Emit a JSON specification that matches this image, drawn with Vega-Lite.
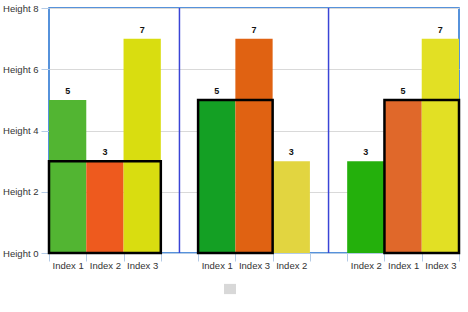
{
  "$schema": "https://vega.github.io/schema/vega-lite/v6.json",
  "width": 410,
  "height": 245,
  "autosize": {"type": "none"},
  "padding": {"left": 49, "top": 8, "right": 9, "bottom": 59},
  "background": "white",
  "config": {
    "view": {"stroke": "#1f6fd0", "strokeWidth": 1.5},
    "font": "Liberation Sans"
  },
  "datasets": {
    "bars": [
      {"slot": "0|Index 1", "value": 5},
      {"slot": "1|Index 2", "value": 3},
      {"slot": "2|Index 3", "value": 7},
      {"slot": "4|Index 1", "value": 5},
      {"slot": "5|Index 3", "value": 7},
      {"slot": "6|Index 2", "value": 3},
      {"slot": "8|Index 2", "value": 3},
      {"slot": "9|Index 1", "value": 5},
      {"slot": "10|Index 3", "value": 7}
    ],
    "boxes": [
      {"from": "0|Index 1", "to": "2|Index 3", "top": 3},
      {"from": "4|Index 1", "to": "5|Index 3", "top": 5},
      {"from": "9|Index 1", "to": "10|Index 3", "top": 5}
    ],
    "seps": [{"slot": "3|"}, {"slot": "7|"}],
    "leg": [{"name": "series"}]
  },
  "layer": [
    {
      "data": {"name": "bars"},
      "mark": {"type": "bar"},
      "encoding": {
        "x": {
          "field": "slot", "type": "ordinal",
          "scale": {"domain": ["0|Index 1","1|Index 2","2|Index 3","3|","4|Index 1","5|Index 3","6|Index 2","7|","8|Index 2","9|Index 1","10|Index 3"], "paddingInner": 0, "paddingOuter": 0},
          "axis": {"title": null, "labelExpr": "split(datum.value, '|')[1]", "labelAngle": 0, "tickBand": "extent", "tickColor": "#b4cbe6", "domainColor": "#b4cbe6", "tickSize": 8, "labelPadding": -1, "labelFontSize": 9.5, "labelColor": "#333333", "labelFont": "Liberation Sans"}
        },
        "y": {
          "field": "value", "type": "quantitative",
          "scale": {"domain": [0, 8], "nice": false},
          "axis": {"title": null, "values": [0, 2, 4, 6, 8], "labelExpr": "'Height ' + datum.value", "grid": true, "gridColor": "#d9d9d9", "domain": false, "tickColor": "#b4cbe6", "tickSize": 8, "labelPadding": 3, "labelFontSize": 9.5, "labelColor": "#333333", "labelFont": "Liberation Sans"}
        },
        "color": {
          "field": "slot", "type": "nominal", "legend": null,
          "scale": {
            "domain": ["0|Index 1","1|Index 2","2|Index 3","4|Index 1","5|Index 3","6|Index 2","8|Index 2","9|Index 1","10|Index 3"],
            "range": ["#52b532","#ee5a1e","#d9dd10","#14a024","#e06212","#e2d540","#24b00c","#e0682a","#e2e024"]
          }
        }
      }
    },
    {
      "data": {"name": "bars"},
      "mark": {"type": "text", "dy": -9, "fontWeight": "bold", "fontSize": 9, "color": "#111111"},
      "encoding": {
        "x": {"field": "slot", "type": "ordinal"},
        "y": {"field": "value", "type": "quantitative"},
        "text": {"field": "value", "type": "quantitative"}
      }
    },
    {
      "data": {"name": "boxes"},
      "mark": {"type": "rect", "fill": null, "stroke": "#000000", "strokeWidth": 2.5},
      "encoding": {
        "x": {"field": "from", "type": "ordinal", "bandPosition": 0},
        "x2": {"field": "to", "bandPosition": 1},
        "y": {"field": "top", "type": "quantitative"},
        "y2": {"datum": 0}
      }
    },
    {
      "data": {"name": "seps"},
      "mark": {"type": "rule", "color": "#3a44d6", "strokeWidth": 1.5},
      "encoding": {
        "x": {"field": "slot", "type": "ordinal"}
      }
    },
    {
      "data": {"name": "leg"},
      "mark": {"type": "point", "filled": true, "size": 0, "shape": "square"},
      "encoding": {
        "fill": {
          "field": "name", "type": "nominal",
          "scale": {"domain": ["series"], "range": ["#c8c8c8"]},
          "legend": {"title": null, "orient": "none", "legendX": 175, "legendY": 275, "labelExpr": "''", "symbolType": "M-1,-0.85L1,-0.85L1,0.85L-1,0.85Z", "symbolSize": 144, "symbolStrokeWidth": 0, "padding": 0,
            "encode": {"symbols": {"update": {"opacity": {"value": 1}, "fill": {"value": "#c8c8c8"}, "fillOpacity": {"value": 1}}}}}
        }
      }
    }
  ]
}
